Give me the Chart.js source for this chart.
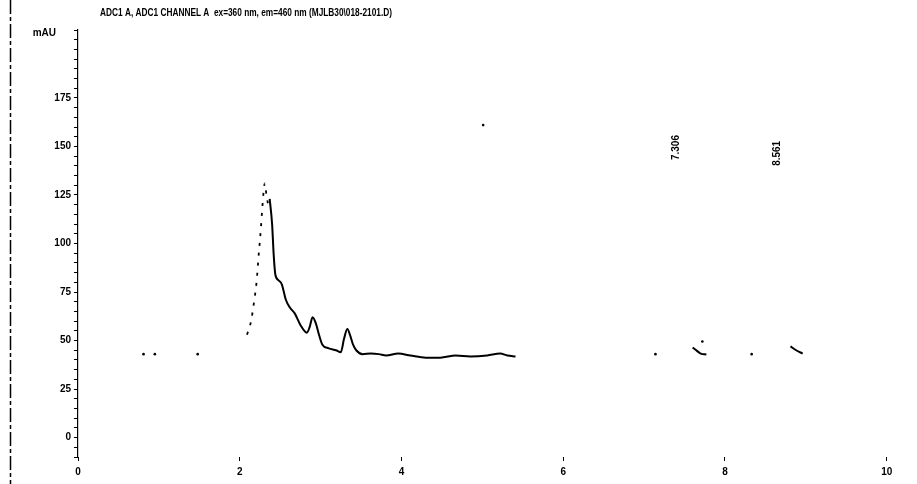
<!DOCTYPE html>
<html>
<head>
<meta charset="utf-8">
<script src="https://cdn.jsdelivr.net/npm/chart.js@4.4.1/dist/chart.umd.min.js"></script>
<style>
  html, body { margin: 0; padding: 0; background: #fff; }
  canvas { display: block; }
</style>
</head>
<body>
<canvas id="chrom" width="917" height="484"></canvas>
<script>
const signalTitle = "ADC1 A, ADC1 CHANNEL A  ex=360 nm, em=460 nm (MJLB30\\018-2101.D)";
const yUnit = "mAU";

// retention time (min) and signal (mAU)
const riseTime = [2.09, 2.14, 2.17, 2.21, 2.23, 2.26, 2.28, 2.31, 2.33, 2.36];
const riseSignal = [53, 60, 68, 81, 92, 107, 119, 131, 125, 118];

const traceTime = [2.37, 2.40, 2.42, 2.44, 2.48, 2.52, 2.57, 2.62, 2.68, 2.75, 2.83, 2.865, 2.90, 2.94,
  2.98, 3.02, 3.10, 3.19, 3.25, 3.29, 3.33, 3.37, 3.40, 3.44, 3.52, 3.62, 3.72, 3.81, 3.96, 4.11,
  4.30, 4.48, 4.67, 4.85, 5.06, 5.22, 5.31, 5.41];
const traceSignal = [123, 110, 94, 84, 81, 79, 71, 67, 64, 58, 54, 57, 62, 59,
  53, 48, 46, 45, 44, 51, 56, 52, 48, 45, 43, 43.3, 43, 42.3, 43.3, 42.3,
  41.2, 41.2, 42.3, 41.8, 42.3, 43.3, 42.3, 41.8];

const tailATime = [7.60, 7.65, 7.70, 7.77];
const tailASignal = [46.4, 44.8, 43.3, 42.8];
const tailBTime = [8.81, 8.88, 8.96];
const tailBSignal = [47, 45, 43.3];

const dotTime = [0.81, 0.95, 1.48, 5.01, 7.14, 7.72, 8.33];
const dotSignal = [43, 43, 43, 161, 43, 49.5, 43];

const peakTimes = [7.306, 8.561];
const peakLabels = ["7.306", "8.561"];
const peakLabelLevel = [143, 140];

const xTicks = [0, 2, 4, 6, 8, 10];
const yTicks = [0, 25, 50, 75, 100, 125, 150, 175];

const FONT = "'Liberation Sans', Arial, sans-serif";

function pts(xs, ys) {
  return xs.map((x, i) => ({ x: x, y: ys[i] }));
}

const decor = {
  id: 'decor',
  afterDraw(chart) {
    const ctx = chart.ctx;
    const xs = chart.scales.x;
    const ys = chart.scales.y;
    ctx.save();
    ctx.fillStyle = '#000';
    ctx.strokeStyle = '#000';

    // page edge line on the left
    ctx.lineWidth = 1.5;
    ctx.setLineDash([14, 3, 4, 3]);
    ctx.beginPath();
    ctx.moveTo(10.5, 0);
    ctx.lineTo(10.5, 484);
    ctx.stroke();
    ctx.setLineDash([]);

    // signal description
    ctx.font = 'bold 10px ' + FONT;
    ctx.textBaseline = 'middle';
    ctx.textAlign = 'left';
    ctx.fillText(signalTitle, 100, 13, 292);

    // unit label at the top of the y axis
    ctx.textAlign = 'right';
    ctx.fillText(yUnit, 56, 33);

    // retention time labels, written upward
    ctx.textAlign = 'left';
    peakTimes.forEach((t, i) => {
      const px = xs.getPixelForValue(t) + 7;
      const py = ys.getPixelForValue(peakLabelLevel[i]);
      ctx.save();
      ctx.translate(px, py);
      ctx.rotate(-Math.PI / 2);
      ctx.fillText(peakLabels[i], 0, 0);
      ctx.restore();
    });
    ctx.restore();
  }
};

const lineStyle = {
  showLine: true,
  borderColor: '#000',
  pointRadius: 0,
  cubicInterpolationMode: 'monotone',
  fill: false
};

new Chart(document.getElementById('chrom'), {
  type: 'scatter',
  data: {
    datasets: [
      Object.assign({}, lineStyle, { data: pts(riseTime, riseSignal), borderWidth: 1.8, borderDash: [3, 7] }),
      Object.assign({}, lineStyle, { data: pts(traceTime, traceSignal), borderWidth: 2 }),
      Object.assign({}, lineStyle, { data: pts(tailATime, tailASignal), borderWidth: 2 }),
      Object.assign({}, lineStyle, { data: pts(tailBTime, tailBSignal), borderWidth: 2 }),
      { data: pts(dotTime, dotSignal), showLine: false, pointRadius: 1.3,
        pointBackgroundColor: '#000', pointBorderWidth: 0 }
    ]
  },
  options: {
    responsive: false,
    animation: false,
    layout: { padding: { left: 0, right: 6, top: 30, bottom: 0 } },
    plugins: {
      legend: { display: false },
      tooltip: { enabled: false }
    },
    scales: {
      x: {
        type: 'linear',
        min: 0,
        max: 10.3,
        afterBuildTicks(scale) { scale.ticks = xTicks.map(v => ({ value: v })); },
        afterFit(scale) { scale.height = 27; },
        border: { display: false },
        grid: { drawOnChartArea: false, color: '#000', tickLength: 4 },
        ticks: { color: '#000', padding: 5, maxRotation: 0, font: { family: FONT, size: 10, weight: 'bold' } }
      },
      y: {
        type: 'linear',
        min: -10,
        max: 210,
        afterFit(scale) { scale.width = 78; },
        border: { display: true, color: '#000', width: 1.2 },
        grid: { drawOnChartArea: false, color: '#000', tickLength: 4 },
        ticks: {
          stepSize: 5,
          autoSkip: false,
          color: '#000',
          padding: 3,
          font: { family: FONT, size: 10, weight: 'bold' },
          callback: v => (yTicks.includes(v) ? String(v) : '')
        }
      }
    }
  },
  plugins: [decor]
});
</script>
</body>
</html>
